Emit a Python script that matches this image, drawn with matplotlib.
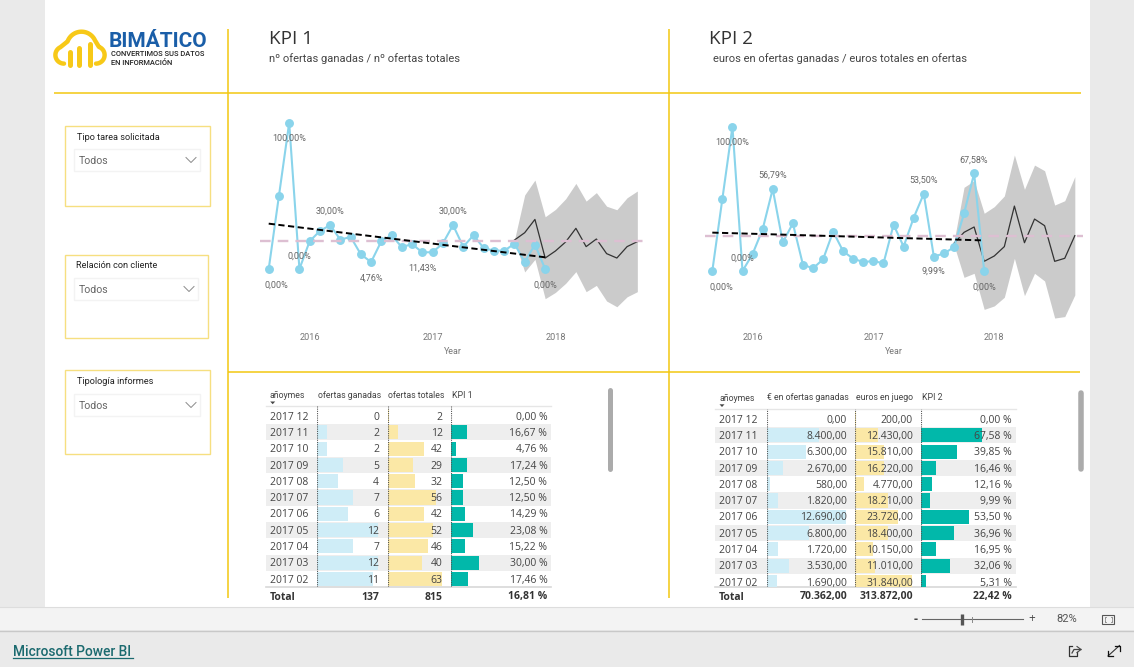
import numpy as np
import matplotlib
matplotlib.use('Agg')
import matplotlib.pyplot as plt
from matplotlib.patches import Rectangle, Polygon

# ---------- data ----------
kpi1 = [0, 50, 100, 0, 19, 26, 30, 20, 22, 10, 4.76, 19, 23, 15, 17, 11.43, 11.43, 17.46, 30, 15.22,
        23.08, 14.29, 12.5, 12.5, 17.24, 4.76, 16.67, 0]
kpi2 = [0, 50, 100, 0, 11.8, 28.9, 56.79, 19.9, 33, 4.4, 1.85, 8.1, 27.3, 13.6, 8.5, 6.2, 6.9, 5.31,
        32.06, 16.95, 36.96, 53.5, 9.99, 12.16, 16.46, 39.85, 67.58, 0]
fc1_mean = [19.8, 24.8, 33.9, 7.5, 12.3, 18.5, 27.8, 15.3, 20.5, 10.5, 7.5, 15.3, 18.7]
fc1_up = [19.8, 50.6, 60.8, 35.7, 40.7, 48, 58.5, 46.4, 52.2, 42.9, 40.5, 48.7, 53.3]
fc1_lo = [19.8, -2, 6.6, -20.3, -16, -9.8, -1.8, -15.5, -11.2, -21.9, -25.8, -19, -15.5]
fc2_mean = [19.2, 26.8, 30.5, 6.7, 10.4, 16.9, 45, 19.6, 36, 31.4, 6.7, 8.8, 24.5]
fc2_up = [20.3, 58, 62.6, 40, 44.6, 52, 80.4, 56.6, 73.4, 69.5, 45.7, 48.7, 65.4]
fc2_lo = [18, -4.4, -1.6, -26.6, -24.2, -18.2, 8.8, -17.1, -1.6, -6.9, -32.6, -31.6, -16.6]
trend1 = [31, 8]
trend2 = [26.6, 21.2]
avg1 = 19.4
avg2 = 24
year_labels = ['2016', '2017', '2018']
year_idx = [4, 16, 28]
label_idx1 = [0, 2, 3, 6, 10, 15, 18, 27]
label_idx2 = [0, 2, 3, 6, 21, 22, 26, 27]

months = ['2017 12', '2017 11', '2017 10', '2017 09', '2017 08', '2017 07', '2017 06', '2017 05',
          '2017 04', '2017 03', '2017 02']
gan1 = [0, 2, 2, 5, 4, 7, 6, 12, 7, 12, 11]
tot1 = [2, 12, 42, 29, 32, 56, 42, 52, 46, 40, 63]
pct1 = [0.00, 16.67, 4.76, 17.24, 12.50, 12.50, 14.29, 23.08, 15.22, 30.00, 17.46]
gan2 = [0, 8400, 6300, 2670, 580, 1820, 12690, 6800, 1720, 3530, 1690]
tot2 = [200, 12430, 15810, 16220, 4770, 18210, 23720, 18400, 10150, 11010, 31840]
pct2 = [0.00, 67.58, 39.85, 16.46, 12.16, 9.99, 53.50, 36.96, 16.95, 32.06, 5.31]
headers1 = ['añoymes', 'ofertas ganadas', 'ofertas totales', 'KPI 1']
headers2 = ['añoymes', '€ en ofertas ganadas', 'euros en juego', 'KPI 2']
totals1 = ['137', '815', '16,81 %']
totals2 = ['70.362,00', '313.872,00', '22,42 %']

# ---------- helpers ----------
W, H = 1134, 667
PX = 0.72
YEL = '#F2C811'
plt.rcParams['font.family'] = ['Open Sans', 'DejaVu Sans']
fig = plt.figure(figsize=(W / 100, H / 100), dpi=100, facecolor='#EAEAEA')


def px_axes(x0, y0, x1, y1, **kw):
    ax = fig.add_axes([x0 / W, 1 - y1 / H, (x1 - x0) / W, (y1 - y0) / H], **kw)
    ax.patch.set_alpha(0)
    for s in ax.spines.values():
        s.set_visible(False)
    return ax


bg = px_axes(0, 0, W, H)
bg.set_xlim(0, W)
bg.set_ylim(H, 0)
bg.axis('off')
bg.add_patch(Rectangle((45, 0), 1045, 607, fc='white', ec='none'))
bg.add_patch(Rectangle((0, 607), W, 23, fc='#F3F3F3', ec='none'))
bg.plot([0, W], [607, 607], color='#DDDDDD', lw=0.8)
bg.plot([0, W], [630.5, 630.5], color='#C8C8C8', lw=1)
for xs, ys in [((227.5, 227.5), (29, 598)), ((668.5, 668.5), (29, 598)),
               ((54, 1081), (93, 93)), ((228, 1080), (372, 372))]:
    bg.plot(xs, ys, color=YEL, lw=1.1, solid_capstyle='butt')

# logo
t = np.linspace(0, 1, 40)
def arc(cx, cy, r, a0, a1):
    a = np.radians(a0 + (a1 - a0) * t)
    return np.c_[cx + r * np.cos(a), cy - r * np.sin(a)]
cloud = np.vstack([arc(64, 55, 8.6, 270, 115), arc(81.5, 46.5, 14.8, 160, 25), arc(96, 55, 8.6, 70, -90)])
bg.plot(cloud[:, 0], cloud[:, 1], color='#F7C918', lw=3.2, solid_capstyle='round')
for bx, btop in [(69.5, 52), (79, 48), (89.5, 44)]:
    bg.plot([bx, bx], [btop, 64.5], color='#F7C918', lw=3.6, solid_capstyle='round')
bg.text(109, 41.5, 'BIMÁTICO', color='#1A5EA8', fontsize=15, fontweight='bold', family='Roboto', va='center', ha='left')
bg.text(111, 54.5, 'CONVERTIMOS SUS DATOS', color='#222222', fontsize=5.45, family='Roboto', va='center', fontweight='medium')
bg.text(111, 62.5, 'EN INFORMACIÓN', color='#222222', fontsize=5.45, family='Roboto', va='center', fontweight='medium')

# titles
for x, title, sx, sub in [(269, 'KPI 1', 269, 'nº ofertas ganadas / nº ofertas totales'),
                          (709, 'KPI 2', 713, 'euros en ofertas ganadas / euros totales en ofertas')]:
    bg.text(x, 38.5, title, fontsize=13.6, color='#333333', family='Open Sans', va='center')
    bg.text(sx, 58.5, sub, fontsize=8, color='#444444', family='Roboto', va='center')

# slicers
slicers = [(65, 125.5, 209.5, 206, 'Tipo tarea solicitada', 77, 137, 74, 149, 200, 171),
           (65, 254.5, 207.5, 338, 'Relación con cliente', 76, 266, 74, 278, 198, 300),
           (65, 369.5, 209.5, 454, 'Tipología informes', 77, 381, 74, 394, 200, 416)]
for x0, y0, x1, y1, lab, lx, ly, dx0, dy0, dx1, dy1 in slicers:
    bg.add_patch(Rectangle((x0, y0), x1 - x0, y1 - y0, fc='none', ec='#F6DF80', lw=1))
    bg.text(lx, ly, lab, fontsize=6.6, color='#222222', family='Roboto', va='center')
    bg.add_patch(Rectangle((dx0, dy0), dx1 - dx0, dy1 - dy0, fc='none', ec='#F3F3F3', lw=1))
    bg.text(dx0 + 5, (dy0 + dy1) / 2 + 1.2, 'Todos', fontsize=7.6, color='#666666', family='Roboto', va='center')
    c = dx1 - 9
    m = (dy0 + dy1) / 2
    bg.plot([c - 5, c, c + 5], [m - 2.5, m + 2.5, m - 2.5], color='#8A8A8A', lw=0.7)


def line_chart(x0px, stepx, y0px, pct, box, vals, fm, fu, fl, trend, avg, avg_span, lab_idx, offs, xlabel_px):
    left, right = box
    top, bottom = 100, 330
    ax = px_axes(left, top, right, bottom)
    ax.set_xlim((left - x0px) / stepx, (right - x0px) / stepx)
    ax.set_ylim((y0px - bottom) / pct, (y0px - top) / pct)
    x = np.arange(len(vals))
    xf = np.arange(24, 24 + len(fm))
    ax.fill_between(xf, fl, fu, color='#CBCBCB', lw=0, zorder=1)
    ax.plot(xf, fm, color='#333333', lw=0.9, zorder=2)
    ax.plot(avg_span, [avg, avg], color='#DDBFD2', lw=1.7, dashes=(4.5, 3), zorder=5)
    ax.plot(x, vals, color='#8AD4EB', lw=1.5, marker='o', ms=5.4, mec='#8AD4EB', zorder=3)
    ax.plot([0, 27], trend, color='black', lw=1.4, dashes=(3.2, 1.8), zorder=6)
    for i, (dx, dy) in zip(lab_idx, offs):
        txt = f'{vals[i]:.2f}%'.replace('.', ',')
        ax.annotate(txt, (i, vals[i]), xytext=(dx * PX, dy * PX), textcoords='offset points', ha='center', va='center',
                    fontsize=6.5, color='#666666', family='Roboto', zorder=7)
    ax.set_yticks([])
    ax.set_xticks(year_idx)
    ax.set_xticklabels(year_labels, fontsize=6.6, color='#777777', family='Roboto')
    ax.tick_params(axis='x', length=0, pad=2.5)
    ax.set_xlabel('Year', fontsize=6.4, color='#777777', family='Roboto', va='center')
    ax.xaxis.set_label_coords((xlabel_px - left) / (right - left), (330 - 351.5) / 230)


line_chart(268.7, 10.24, 269, 1.463, (230, 660), kpi1, fc1_mean, fc1_up, fc1_lo, trend1, avg1, (-0.85, 36.9),
           label_idx1, [(8, -16), (0, -15), (0, 13), (0, 14), (0, -16), (0, -15.5), (0, 14), (0, -16)], 453)
line_chart(712.3, 10.07, 271, 1.443, (672, 1090), kpi2, fc2_mean, fc2_up, fc2_lo, trend2, avg2, (-0.72, 36.8),
           label_idx2, [(9, -16), (0, -15), (0, 13), (0, 13.5), (0, 14), (0, -15), (0, 13.5), (0, -16)], 893.5)


def table(xl, xr, xcols, xrights, y_head, y_line, y_total_line, y_row0, headers, cols, scales, fmts, totals, x_first, arrow):
    step = 16.3
    ytop = (y_line - y_row0) / step
    ybot = (y_total_line - y_row0) / step
    base = px_axes(xl, y_line, xr, y_total_line)
    base.set_xlim(0, 1)
    base.set_ylim(ybot, ytop)
    base.set_xticks([])
    base.set_yticks([])
    rows = np.arange(len(months))
    base.barh(rows[1::2], 1, height=1.0, color='#EEEEEE', lw=0, zorder=1)
    for r, m in zip(rows, months):
        base.text((x_first - xl) / (xr - xl), r + 0.07, m, fontsize=7.5, color='#444444', va='center', ha='left', zorder=3)
    colors = ['#CFEDF7', '#FBE8A6', '#01B8AA']
    for j in range(3):
        ax = px_axes(xcols[j], y_line, xrights[j] + 1, y_total_line)
        ax.set_ylim(ybot, ytop)
        ax.set_xlim(0, (xrights[j] + 1 - xcols[j]) / scales[j])
        ax.set_xticks([])
        ax.set_yticks([])
        ax.barh(rows, cols[j], height=0.86, color=colors[j], lw=0, zorder=1)
        ax.axvline(0, color='#555555', lw=0.8, ls=(0, (1, 1)), zorder=2)
        for r, v in zip(rows, cols[j]):
            ax.text(ax.get_xlim()[1] * (xrights[j] - xcols[j]) / (xrights[j] + 1 - xcols[j]), r + 0.07, fmts[j](v),
                    fontsize=7.5, color='#444444', va='center', ha='right', zorder=3, clip_on=True)
    bg.plot([xl, xr], [y_line, y_line], color='#E6E6E6', lw=1)
    bg.plot([xl, xr], [y_total_line, y_total_line], color='#D8D8D8', lw=1.2)
    bg.text(x_first, y_head, headers[0], fontsize=6.3, color='#444444', va='center', family='Roboto')
    for h, x in zip(headers[1:], xcols):
        bg.text(x + 0.5, y_head, h, fontsize=6.3, color='#444444', va='center', family='Roboto')
    bg.add_patch(Polygon([(arrow[0] - 2.5, arrow[1] - 1.2), (arrow[0] + 2.5, arrow[1] - 1.2), (arrow[0], arrow[1] + 1.5)], fc='#444444', ec='none'))
    bg.text(x_first, 597, 'Total', fontsize=7.5, fontweight='bold', color='#333333', va='center')
    for s, x in zip(totals, xrights):
        bg.text(x, 597, s, fontsize=7.5, fontweight='bold', color='#333333', va='center', ha='right')


def eu(v):
    return f'{v:,.2f}'.replace(',', 'X').replace('.', ',').replace('X', '.')


pc = lambda v: f'{v:.2f} %'.replace('.', ',')
table(266, 551, [317.3, 387.7, 451.3], [379, 442.7, 547.3], 395, 406, 586.7, 416, headers1, [gan1, tot1, pct1],
      [5.08, 0.868, 0.93], [str, str, pc], totals1, 270, (272.7, 402.7))
table(715, 1016, [766.7, 855.3, 921.3], [847, 913, 1011.7], 398, 409.3, 587, 419, headers2, [gan2, tot2, pct2],
      [0.00628, 0.00179, 0.895], [eu, eu, pc], totals2, 719, (722, 405.5))

# scrollbars
for x0, x1, y0, y1 in [(607, 612, 388, 471), (1078.5, 1084, 391, 471)]:
    bg.plot([(x0 + x1) / 2] * 2, [y0 + 2, y1 - 2], color='#ABABAB', lw=(x1 - x0) * PX, solid_capstyle='round')

# status bar / footer
bg.text(915.5, 619, '-', fontsize=9, color='#444444', ha='center', va='center', fontweight='bold')
bg.plot([922, 1023], [619, 619], color='#666666', lw=0.8)
bg.plot([962, 962], [614, 625], color='#555555', lw=2.4, solid_capstyle='butt')
bg.plot([972, 972], [616.5, 621.5], color='#888888', lw=0.7)
bg.text(1032, 618.5, '+', fontsize=8.5, color='#444444', ha='center', va='center')
bg.text(1067, 619.5, '82%', fontsize=8, color='#555555', ha='center', va='center', family='Roboto')
bg.add_patch(Rectangle((1102, 614.7), 12.3, 9, fc='none', ec='#555555', lw=0.8))
for cx, cy, sx, sy in [(1104.5, 617, 1, 1), (1112, 617, -1, 1), (1104.5, 621.5, 1, -1), (1112, 621.5, -1, -1)]:
    bg.plot([cx + 1.5 * sx, cx, cx], [cy, cy, cy + 1.5 * sy], color='#666666', lw=0.5)
bg.text(13, 651.5, 'Microsoft Power BI', fontsize=9.9, color='#1B6A6F', va='center', family='Roboto', fontweight='medium')
bg.plot([13, 133], [658, 658], color='#1B6A6F', lw=0.9)
bg.plot([1072, 1068.5, 1068.5, 1077, 1077], [646, 646, 655.5, 655.5, 652], color='#333333', lw=0.9)
bg.plot([1072, 1074, 1081], [653, 649.5, 649.5], color='#444444', lw=0.9)
bg.plot([1077, 1081, 1077], [646.5, 649.5, 652.5], color='#444444', lw=0.8)
bg.plot([1108, 1119.5], [656, 645.5], color='#333333', lw=0.8)
bg.plot([1108, 1108, 1113], [651, 656, 656], color='#111111', lw=0.9)
bg.plot([1114.5, 1119.5, 1119.5], [645.5, 645.5, 650.5], color='#111111', lw=0.9)

fig.savefig('out.png', dpi=100, facecolor=fig.get_facecolor())
